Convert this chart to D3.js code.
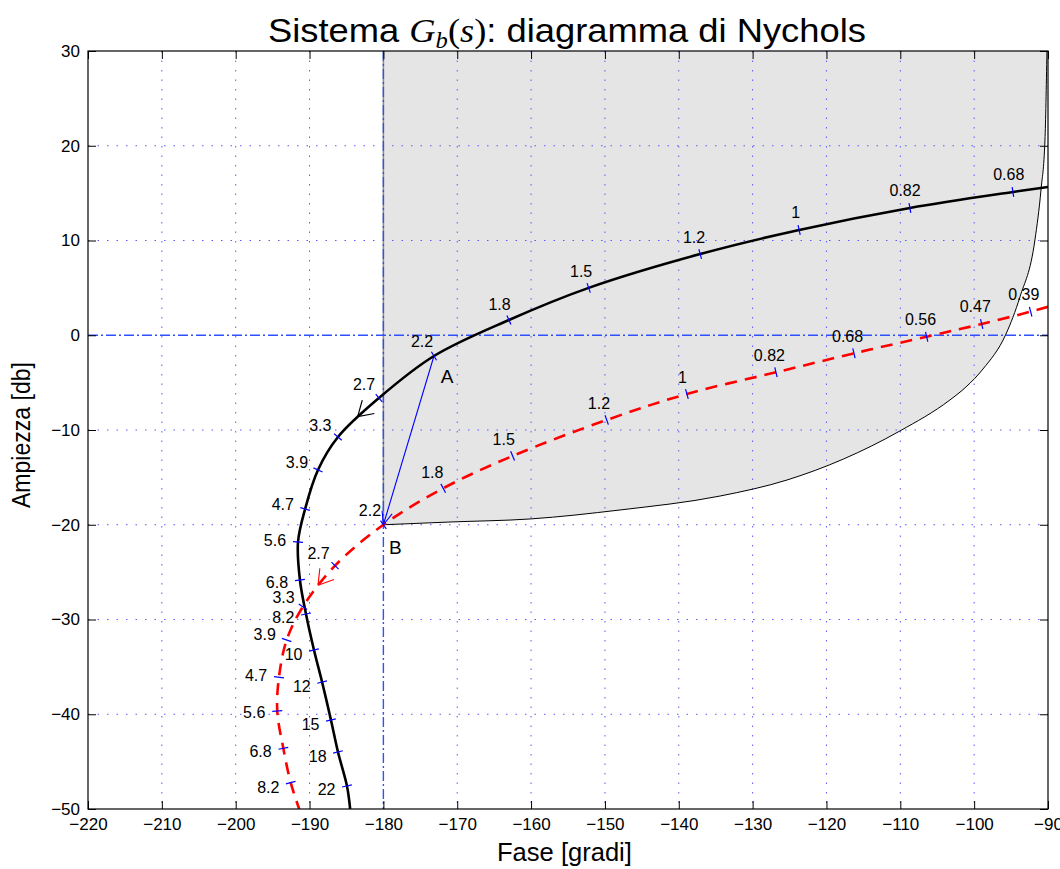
<!DOCTYPE html>
<html>
<head>
<meta charset="utf-8">
<script src="https://cdn.jsdelivr.net/npm/d3@7"></script>
<style>
  body { margin: 0; background: #fff; }
  text { font-family: "Liberation Sans", Arial, sans-serif; }
</style>
</head>
<body>
<svg id="chart" width="1060" height="869"></svg>
<script>
// Uncompensated loop G(jw): frequency labels [rad/s], phase [deg], magnitude [dB]
const plantFreq  = ["", "0.68", "0.82", "1", "1.2", "1.5", "1.8", "2.2", "2.7", "3.3", "3.9", "4.7", "5.6", "6.8", "8.2", "10", "12", "15", "18", "22", ""];
const plantPhase = [-90, -94.75, -108.7, -123.7, -137.1, -152.2, -163.0, -173.15, -180.6, -186.15, -188.86, -190.6, -191.56, -191.3, -190.48, -189.4, -188.3, -187.1, -186.15, -184.93, -184.5];
const plantMag   = [15.65, 15.12, 13.43, 11.11, 8.57, 5.0, 1.61, -2.19, -6.62, -10.74, -14.22, -18.34, -21.82, -25.83, -29.42, -33.22, -36.6, -40.6, -43.98, -47.57, -50];

// Compensated loop Gb(jw)
const compFreq  = ["", "0.39", "0.47", "0.56", "0.68", "0.82", "1", "1.2", "1.5", "1.8", "2.2", "2.7", "3.3", "3.9", "4.7", "5.6", "6.8", "8.2", ""];
const compPhase = [-90, -92.35, -98.98, -106.43, -116.28, -126.84, -138.9, -149.76, -162.5, -171.9, -180, -186.55, -190.9, -193.1, -194.14, -194.37, -193.55, -192.55, -191.4];
const compMag   = [3.0, 2.49, 1.19, -0.15, -1.91, -3.91, -6.2, -8.94, -12.74, -16.15, -20, -24.32, -28.65, -32.16, -36.1, -39.66, -43.6, -47.22, -50];

// Lower boundary of the region reachable from B (grey area)
const regionPhase = [-180, -170.98, -160.15, -147.96, -134.42, -125.35, -110.05, -103.28, -101.11, -98.8, -95.69, -93.8, -91.77, -90.95, -90.41, -90.14];
const regionMag   = [-20, -19.71, -19.39, -18.44, -16.97, -15.28, -10.1, -6.83, -5.46, -3.56, 0.13, 4.04, 10.05, 15.33, 20.61, 30];

// Design points: A on G at w = 2.2, moved to B
const pointA = [-173.15, -2.19];
const pointB = [-180, -20];

// Axis ticks
const phaseTicks = [-220, -210, -200, -190, -180, -170, -160, -150, -140, -130, -120, -110, -100, -90];
const magTicks   = [30, 20, 10, 0, -10, -20, -30, -40, -50];

const svg = d3.select("#chart");
const x = d3.scaleLinear().domain([-220, -90]).range([88, 1048]);
const y = d3.scaleLinear().domain([-50, 30]).range([809, 51]);
const [x0, x1] = x.range();
const [y0, y1] = [y(30), y(-50)];

svg.append("defs").append("clipPath").attr("id", "plot")
  .append("rect").attr("x", x0).attr("y", y0).attr("width", x1 - x0).attr("height", y1 - y0);

const zip = (a, b) => a.map((v, i) => [v, b[i]]);
const plantPts  = zip(plantPhase, plantMag);
const compPts   = zip(compPhase, compMag);
const regionPts = zip(regionPhase, regionMag);

const line = d3.line().x(d => x(d[0])).y(d => y(d[1])).curve(d3.curveCatmullRom.alpha(0.5));
const regionLine = d3.line().x(d => x(d[0])).y(d => y(d[1])).curve(d3.curveMonotoneX);

const plot = svg.append("g").attr("clip-path", "url(#plot)");

// grey admissible region: boundary curve closed along the top edge and the -180 deg line
plot.append("path")
  .attr("d", regionLine(regionPts) + `L${x(-180)},${y(30)}Z`)
  .attr("fill", "#e5e5e5").attr("stroke", "none");

// dotted grid
const grid = plot.append("g").attr("stroke", "#5a5aff").attr("stroke-width", 1)
  .attr("stroke-dasharray", "1.5,8");
phaseTicks.filter(t => t !== -220 && t !== -90 && t !== -180).forEach(t => {
  grid.append("line").attr("x1", x(t)).attr("x2", x(t)).attr("y1", y0).attr("y2", y1);
});
magTicks.filter(t => t !== 30 && t !== -50 && t !== 0).forEach(t => {
  grid.append("line").attr("x1", x0).attr("x2", x1).attr("y1", y(t)).attr("y2", y(t));
});

// left edge of the region
plot.append("line").attr("x1", x(-180)).attr("x2", x(-180)).attr("y1", y(30)).attr("y2", y(-20))
  .attr("stroke", "#8c8c8c").attr("stroke-width", 1.5);

// critical lines: -180 deg and 0 dB
const crit = plot.append("g").attr("stroke", "#3050ff").attr("stroke-width", 1.4)
  .attr("stroke-dasharray", "10,3,2,3");
crit.append("line").attr("x1", x(-180)).attr("x2", x(-180)).attr("y1", y0).attr("y2", y1);
crit.append("line").attr("x1", x0).attr("x2", x1).attr("y1", y(0)).attr("y2", y(0));

// region boundary
plot.append("path").attr("d", regionLine(regionPts))
  .attr("fill", "none").attr("stroke", "#000").attr("stroke-width", 1);

// blue displacement A -> B
plot.append("line")
  .attr("x1", x(pointA[0])).attr("y1", y(pointA[1]))
  .attr("x2", x(pointB[0])).attr("y2", y(pointB[1]))
  .attr("stroke", "#0000ff").attr("stroke-width", 1.1);

// loci
const plantPath = plot.append("path").attr("d", line(plantPts))
  .attr("fill", "none").attr("stroke", "#000").attr("stroke-width", 2.6);
const compPath = plot.append("path").attr("d", line(compPts))
  .attr("fill", "none").attr("stroke", "#ff0000").attr("stroke-width", 2.6)
  .attr("stroke-dasharray", "12,8");

// open arrowhead helper
function arrowHead(g, tip, dir, len, half, color, width) {
  const a = Math.atan2(-dir[1], -dir[0]);
  [a - half, a + half].forEach(t => {
    g.append("line").attr("x1", tip[0]).attr("y1", tip[1])
      .attr("x2", tip[0] + len * Math.cos(t)).attr("y2", tip[1] + len * Math.sin(t))
      .attr("stroke", color).attr("stroke-width", width);
  });
}

// arrow on a locus, half way between two labelled frequencies
function locusArrow(pathSel, pts, labels, fa, fb, color) {
  const node = pathSel.node();
  const total = node.getTotalLength();
  const nearest = (px, py) => {
    let best = 0, bd = Infinity;
    for (let s = 0; s <= total; s += 0.5) {
      const p = node.getPointAtLength(s);
      const d = (p.x - px) ** 2 + (p.y - py) ** 2;
      if (d < bd) { bd = d; best = s; }
    }
    return best;
  };
  const ia = labels.indexOf(fa), ib = labels.indexOf(fb);
  const sa = nearest(x(pts[ia][0]), y(pts[ia][1]));
  const sb = nearest(x(pts[ib][0]), y(pts[ib][1]));
  const sm = (sa + sb) / 2;
  const p = node.getPointAtLength(sm), q = node.getPointAtLength(sm - 2);
  const d = [p.x - q.x, p.y - q.y];
  const n = Math.hypot(d[0], d[1]);
  arrowHead(plot, [p.x, p.y], [d[0] / n, d[1] / n], 17, 32 * Math.PI / 180, color, color === "#000" ? 1.2 : 1.1);
}
locusArrow(plantPath, plantPts, plantFreq, "2.7", "3.3", "#000");
locusArrow(compPath, compPts, compFreq, "2.7", "3.3", "#ff0000");

// arrowhead at B
{
  const ax = x(pointA[0]), ay = y(pointA[1]), bx = x(pointB[0]), by = y(pointB[1]);
  const n = Math.hypot(bx - ax, by - ay);
  arrowHead(plot, [bx, by], [(bx - ax) / n, (by - ay) / n], 14, 22 * Math.PI / 180, "#0000ff", 1.1);
}

// frequency ticks and labels along the loci
const labelLayer = svg.append("g");
function markFrequencies(labels, pts) {
  pts.forEach((p, i) => {
    if (!labels[i]) return;
    const prev = pts[Math.max(0, i - 1)], next = pts[Math.min(pts.length - 1, i + 1)];
    let dx = x(next[0]) - x(prev[0]), dy = y(next[1]) - y(prev[1]);
    const len = Math.hypot(dx, dy); dx /= len; dy /= len;
    let nx = -dy, ny = dx;
    if (nx + ny > 0) { nx = -nx; ny = -ny; }
    const px = x(p[0]), py = y(p[1]);
    plot.append("line")
      .attr("x1", px - nx * 5).attr("y1", py - ny * 5)
      .attr("x2", px + nx * 5).attr("y2", py + ny * 5)
      .attr("stroke", "#0000ff").attr("stroke-width", 1.2);
    const t = labelLayer.append("text").attr("text-anchor", "middle")
      .style("font-size", "16px").attr("fill", "#000").text(labels[i]);
    const w = t.node().getComputedTextLength();
    const cx = px + nx * (12 + w / 2), cy = py + ny * (12 + 5.75);
    t.attr("x", cx).attr("y", cy + 5.75);
  });
}
markFrequencies(plantFreq, plantPts);
markFrequencies(compFreq, compPts);

// point names
labelLayer.append("text").attr("x", x(pointA[0]) + 13).attr("y", y(pointA[1]) + 27)
  .attr("text-anchor", "middle").style("font-size", "19px").text("A");
labelLayer.append("text").attr("x", x(pointB[0]) + 12).attr("y", y(pointB[1]) + 29)
  .attr("text-anchor", "middle").style("font-size", "19px").text("B");

// axes (ticks pointing inward on all four sides)
const fmt = d3.format("d");
const axB = svg.append("g").attr("transform", `translate(0,${y1})`)
  .call(d3.axisBottom(x).tickValues(phaseTicks).tickSize(-8).tickPadding(9).tickFormat(fmt));
const axT = svg.append("g").attr("transform", `translate(0,${y0})`)
  .call(d3.axisTop(x).tickValues(phaseTicks).tickSize(-8).tickFormat(""));
const axL = svg.append("g").attr("transform", `translate(${x0},0)`)
  .call(d3.axisLeft(y).tickValues(magTicks).tickSize(-8).tickPadding(8).tickFormat(fmt));
const axR = svg.append("g").attr("transform", `translate(${x1},0)`)
  .call(d3.axisRight(y).tickValues(magTicks).tickSize(-8).tickFormat(""));
[axB, axT, axL, axR].forEach(a => {
  a.select(".domain").remove();
  a.selectAll("line").attr("stroke", "#000");
  a.selectAll("text").style("font-size", "17px").style("font-family", "Liberation Sans, Arial, sans-serif").attr("fill", "#000");
});

svg.append("rect").attr("x", x0).attr("y", y0).attr("width", x1 - x0).attr("height", y1 - y0)
  .attr("fill", "none").attr("stroke", "#000").attr("stroke-width", 1.2);

// fit a text element horizontally into [left, left + width]
function fitText(sel, left, baseline, width) {
  const w = sel.node().getBBox().width;
  sel.attr("transform", `translate(${left},${baseline}) scale(${width / w},1)`);
}

// title
const title = svg.append("text").style("font-size", "34px");
title.append("tspan").text("Sistema ");
title.append("tspan").style("font-family", "Liberation Serif, serif").style("font-style", "italic").text("G");
title.append("tspan").style("font-family", "Liberation Serif, serif").style("font-style", "italic")
  .style("font-size", "23px").attr("dy", 6).text("b");
title.append("tspan").style("font-family", "Liberation Serif, serif").attr("dy", -6).text("(");
title.append("tspan").style("font-family", "Liberation Serif, serif").style("font-style", "italic").text("s");
title.append("tspan").style("font-family", "Liberation Serif, serif").text(")");
title.append("tspan").text(": diagramma di Nychols");
fitText(title, 268, 42, 598);

// axis titles
const xl = svg.append("text").style("font-size", "26px").text("Fase [gradi]");
fitText(xl, 497, 861, 135);
const yl = svg.append("text").style("font-size", "26px").text("Ampiezza [db]");
{
  const w = yl.node().getBBox().width;
  yl.attr("transform", `translate(30,508) rotate(-90) scale(${146 / w},1)`);
}
</script>
</body>
</html>
